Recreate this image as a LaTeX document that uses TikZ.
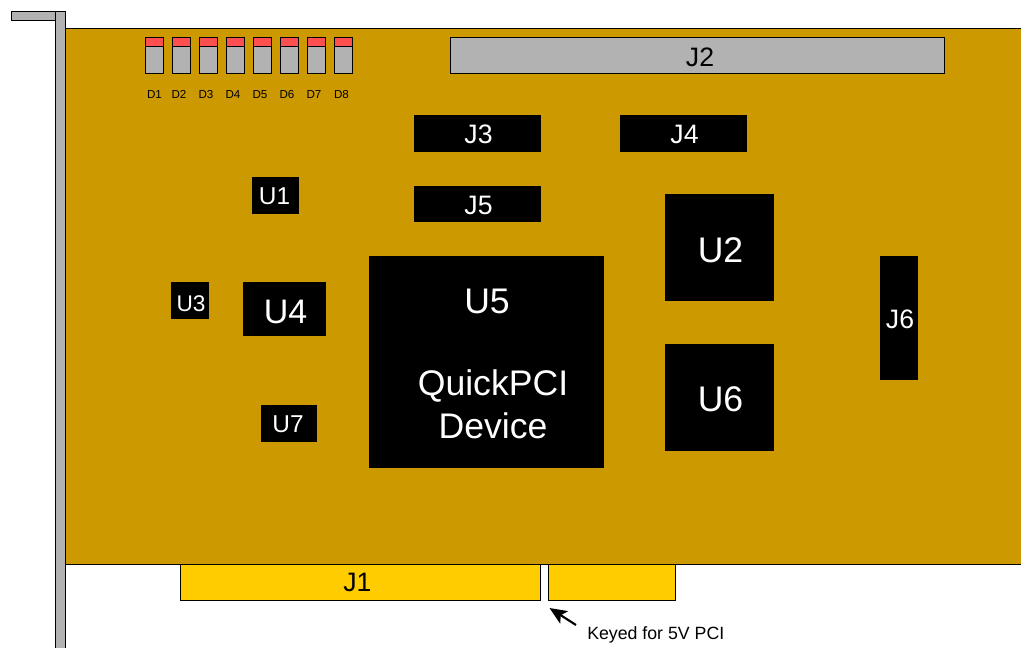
\documentclass[tikz,border=0pt]{standalone}
\usepackage{fontspec}
\setmainfont{Liberation Sans}
\usetikzlibrary{arrows.meta}
\definecolor{board}{HTML}{CC9900}
\definecolor{metal}{HTML}{B2B2B2}
\definecolor{ledred}{HTML}{FF5050}
\definecolor{gold}{HTML}{FFCC00}
\newcommand{\fs}[1]{\fontsize{#1}{#1}\selectfont}
% text shifted by dx, dy reference pixels (dy positive = downward)
\newcommand{\tx}[3]{\kern\dimexpr #1pt*3/2\relax\raisebox{\dimexpr -#2pt*3/4\relax}[\height][\depth]{#3}}
\tikzset{
  x=0.75pt,y=-0.75pt,
  box/.style n args={4}{draw=black,line width=0.75pt,inner sep=0pt,outer sep=0pt,
    minimum width={(#3-(#1))*0.75pt},minimum height={(#4-(#2))*0.75pt},anchor=center,at={({(#1+#3)/2},{(#2+#4)/2})}},
  chip/.style={fill=black,text=white,draw=none},
  big/.style={font=\fs{25.5}},
  mid/.style={font=\fs{20}},
  midu/.style={font=\fs{18.3}},
  small/.style={font=\fs{17}},
  tiny/.style={font=\fs{8.7},inner sep=0pt,anchor=base},
  note/.style={font=\fs{13.3},inner sep=0pt,anchor=west},
  wlab/.style={inner sep=0pt,text=white,font=\fs{26.7}},
}
\begin{document}
\begin{tikzpicture}
\useasboundingbox (0,0) rectangle (1021,647);
% board and bracket
\node[box={65}{28}{1024}{564},fill=board] (board) {};
\node[box={11}{11}{55.7}{20},fill=metal] (tab) {};
\node[box={55.7}{11}{65}{650},fill=metal] (bracket) {};
% LEDs
\foreach \i/\x/\lx in {1/145/154.5,2/172/179,3/199/206,4/226/233,5/253/260,6/280/287,7/307/314,8/334/341.5}{
  \node[box={\x}{37}{\x+18}{73},fill=metal] (led\i) {};
  \node[box={\x}{37}{\x+18}{46},fill=ledred] (red\i) {};
  \node[tiny] (dl\i) at (\lx,98) {D\i};
}
% connectors
\node[box={450}{37}{944}{73},fill=metal,mid] (J2) {\tx{3}{2}{J2}};
\node[box={414}{115}{541}{152},chip,mid] (J3) {\tx{1}{1}{J3}};
\node[box={620}{115}{747}{152},chip,mid] (J4) {\tx{1}{1}{J4}};
\node[box={414}{186}{541}{222},chip,mid] (J5) {\tx{1}{1}{J5}};
\node[box={880}{256}{918}{380},chip,mid] (J6) {\tx{1}{1}{J6}};
% chips
\node[box={252}{177}{299}{214},chip,midu] (U1) {\tx{-1}{1}{U1}};
\node[box={171}{282}{209}{319},chip,small] (U3) {\tx{1}{3}{U3}};
\node[box={243}{282}{326}{336},chip,big] (U4) {\tx{1}{2.5}{U4}};
\node[box={261}{405}{317}{442},chip,midu] (U7) {\tx{-1}{1}{U7}};
\node[box={665}{194}{774}{301},chip,font=\fs{26.7}] (U2) {\tx{1}{3}{U2}};
\node[box={665}{344}{774}{451},chip,font=\fs{26.7}] (U6) {\tx{1}{2}{U6}};
\node[box={369}{256}{604}{468},chip] (U5) {};
\node[wlab] (U5a) at (487,301) {U5};
\node[wlab] (U5b) at (493,386) {QuickPCI};
\node[wlab] (U5c) at (493,426) {Device};
% edge connector
\node[box={180.7}{564}{540}{600},fill=gold,mid] (J1) {\tx{-3}{0.5}{J1}};
\node[box={548.7}{564}{675}{600},fill=gold] (key) {};
% note
\node[note] (keyed) at (587,634.5) {Keyed for 5V PCI};
\coordinate (tail) at (576,625);
\coordinate (tip) at (549.5,608);
\draw[line width=1.6pt,-{Stealth[length=13pt,width=11pt,inset=3pt]}] (tail) -- (tip);
\end{tikzpicture}
\end{document}
